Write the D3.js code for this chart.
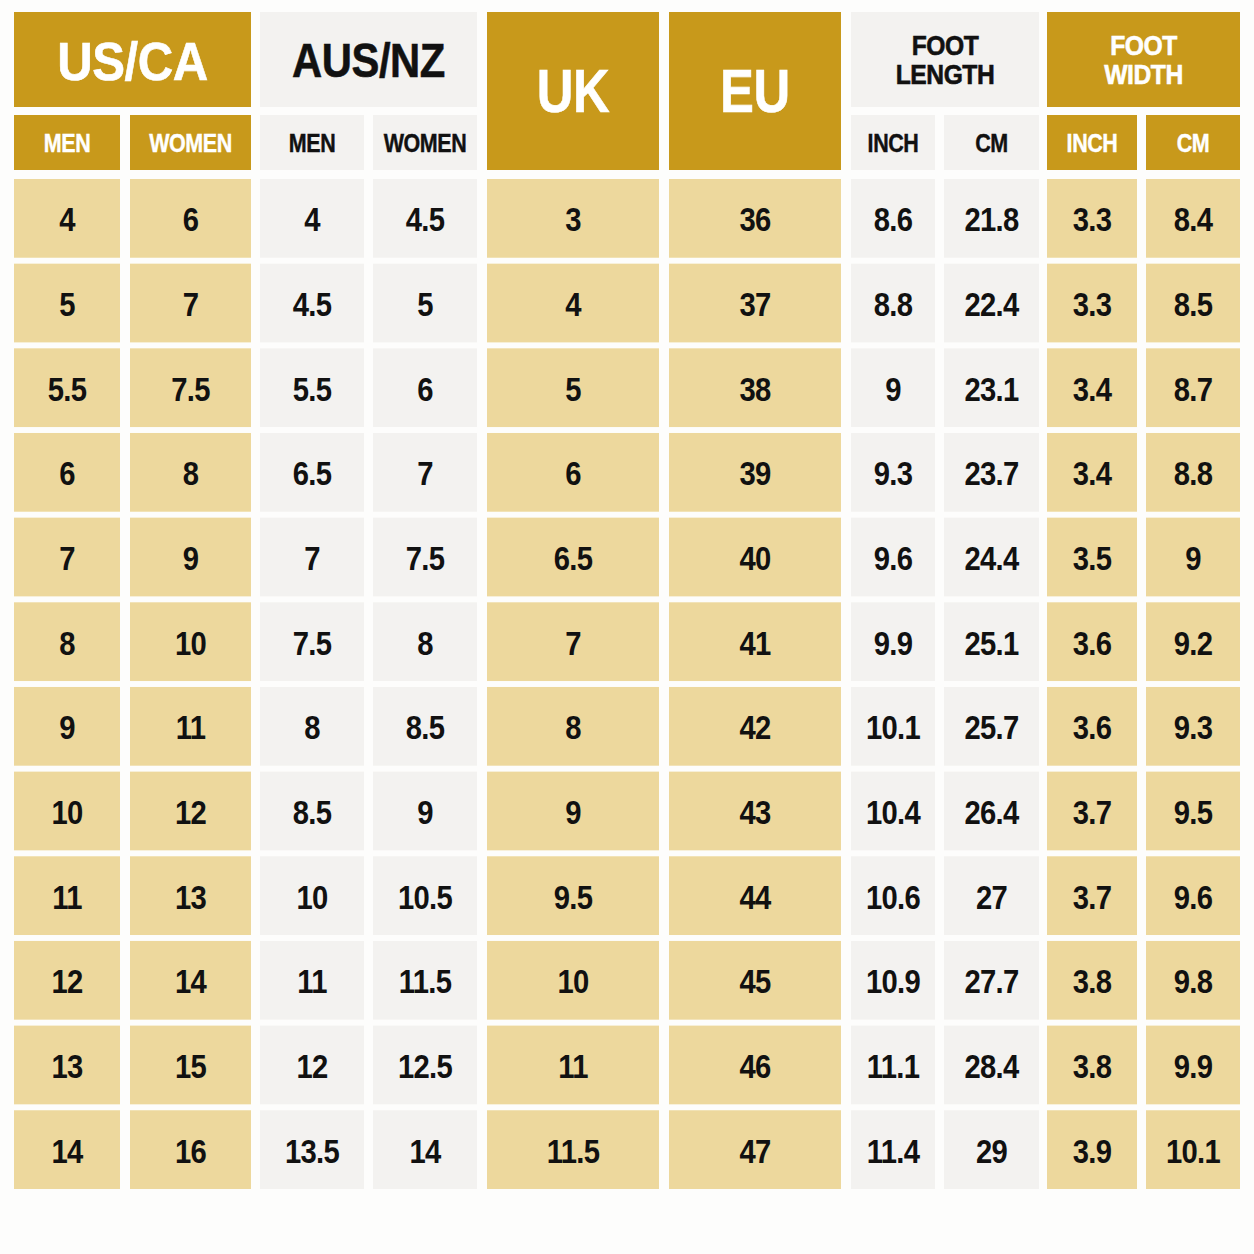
<!DOCTYPE html>
<html>
<head>
<meta charset="utf-8">
<script src="https://cdn.jsdelivr.net/npm/d3@7"></script>
<style>
  html, body { margin: 0; padding: 0; background: #fdfdfc; }
  svg { display: block; }
  text { font-family: "Liberation Sans", Arial, sans-serif; font-weight: bold; }
</style>
</head>
<body>
<svg id="chart" width="1254" height="1254"></svg>
<script>
// ---------- DATA ----------
const groups = ["US/CA", "AUS/NZ", "UK", "EU", "FOOT LENGTH", "FOOT WIDTH"];
const subLabels = ["MEN", "WOMEN", "MEN", "WOMEN", "", "", "INCH", "CM", "INCH", "CM"];
const usMen      = ["4", "5", "5.5", "6", "7", "8", "9", "10", "11", "12", "13", "14"];
const usWomen    = ["6", "7", "7.5", "8", "9", "10", "11", "12", "13", "14", "15", "16"];
const ausMen     = ["4", "4.5", "5.5", "6.5", "7", "7.5", "8", "8.5", "10", "11", "12", "13.5"];
const ausWomen   = ["4.5", "5", "6", "7", "7.5", "8", "8.5", "9", "10.5", "11.5", "12.5", "14"];
const ukSizes    = ["3", "4", "5", "6", "6.5", "7", "8", "9", "9.5", "10", "11", "11.5"];
const euSizes    = ["36", "37", "38", "39", "40", "41", "42", "43", "44", "45", "46", "47"];
const lengthInch = ["8.6", "8.8", "9", "9.3", "9.6", "9.9", "10.1", "10.4", "10.6", "10.9", "11.1", "11.4"];
const lengthCm   = ["21.8", "22.4", "23.1", "23.7", "24.4", "25.1", "25.7", "26.4", "27", "27.7", "28.4", "29"];
const widthInch  = ["3.3", "3.3", "3.4", "3.4", "3.5", "3.6", "3.6", "3.7", "3.7", "3.8", "3.8", "3.9"];
const widthCm    = ["8.4", "8.5", "8.7", "8.8", "9", "9.2", "9.3", "9.5", "9.6", "9.8", "9.9", "10.1"];

const columns = [usMen, usWomen, ausMen, ausWomen, ukSizes, euSizes, lengthInch, lengthCm, widthInch, widthCm];

// ---------- LAYOUT ----------
const colLeft  = [14, 130, 260, 373, 487, 669, 851, 944, 1047, 1146];
const colRight = [120, 251, 364, 477, 659, 841, 935, 1039, 1137, 1240];
const groupCols = [[0, 1], [2, 3], [4, 4], [5, 5], [6, 7], [8, 9]];
const goldCol = [true, true, false, false, true, true, false, false, true, true];
const groupGold = [true, false, true, true, false, true];

const C = { dark: "#c8991b", light: "#edd89d", gray: "#f3f2f0", white: "#ffffff", black: "#111111" };

const xL = d3.scaleLinear().domain(d3.range(colLeft.length)).range(colLeft);
const xR = d3.scaleLinear().domain(d3.range(colRight.length)).range(colRight);

const nRows = usMen.length;
const y = d3.scaleBand().domain(d3.range(nRows)).range([179, 1189]).paddingInner(0.07).paddingOuter(0);

const svg = d3.select("#chart");
svg.append("rect").attr("width", 1254).attr("height", 1254).attr("fill", "#fdfdfc");

// ---------- GROUP HEADERS ----------
const headerTop = 12, headerBot = 107, subTop = 115, subBot = 170;

const gH = svg.append("g");
groups.forEach((g, i) => {
  const [a, b] = groupCols[i];
  const single = a === b;
  const x0 = xL(a), x1 = xR(b);
  const y0 = headerTop, y1 = single ? subBot : headerBot;
  gH.append("rect").attr("x", x0).attr("y", y0).attr("width", x1 - x0).attr("height", y1 - y0)
    .attr("fill", groupGold[i] ? C.dark : C.gray);
  const cx = (x0 + x1) / 2;
  const fill = groupGold[i] ? C.white : C.black;
  let lines, size, sx, base;
  if (g === "US/CA") { lines = [g]; size = 54; sx = 0.91; base = 80; }
  else if (g === "AUS/NZ") { lines = [g]; size = 48; sx = 0.87; base = 77; }
  else if (single) { lines = [g]; size = 62; sx = 0.82; base = 112; }
  else { lines = g.split(" "); size = 28; sx = 0.88; base = 55; }
  const t = gH.append("text")
    .attr("transform", `translate(${cx},${base}) scale(${sx},1)`)
    .attr("text-anchor", "middle")
    .attr("font-size", size)
    .attr("letter-spacing", -0.5)
    .attr("stroke", fill).attr("stroke-width", 0.6)
    .attr("fill", fill);
  lines.forEach((ln, k) => {
    t.append("tspan").attr("x", 0).attr("y", k * 29).text(ln);
  });
});

// ---------- SUB HEADERS ----------
const gS = svg.append("g");
subLabels.forEach((s, i) => {
  if (!s) return;
  const x0 = xL(i), x1 = xR(i);
  gS.append("rect").attr("x", x0).attr("y", subTop).attr("width", x1 - x0).attr("height", subBot - subTop)
    .attr("fill", goldCol[i] ? C.dark : C.gray);
  gS.append("text")
    .attr("transform", `translate(${(x0 + x1) / 2},${152}) scale(0.86,1)`)
    .attr("text-anchor", "middle")
    .attr("font-size", 25)
    .attr("letter-spacing", -0.5)
    .attr("stroke", goldCol[i] ? C.white : C.black).attr("stroke-width", 0.4)
    .attr("fill", goldCol[i] ? C.white : C.black)
    .text(s);
});

// ---------- DATA CELLS ----------
const gD = svg.append("g");
columns.forEach((col, ci) => {
  const g = gD.append("g");
  g.selectAll("rect").data(col).join("rect")
    .attr("x", xL(ci)).attr("width", xR(ci) - xL(ci))
    .attr("y", (d, r) => y(r)).attr("height", y.bandwidth())
    .attr("fill", goldCol[ci] ? C.light : C.gray);
  g.selectAll("text").data(col).join("text")
    .attr("transform", (d, r) => `translate(${(xL(ci) + xR(ci)) / 2},${y(r) + y.bandwidth() / 2 + 13}) scale(0.86,1)`)
    .attr("text-anchor", "middle")
    .attr("font-size", 34)
    .attr("letter-spacing", -0.8)
    .attr("fill", C.black)
    .text(d => d);
});
</script>
</body>
</html>
